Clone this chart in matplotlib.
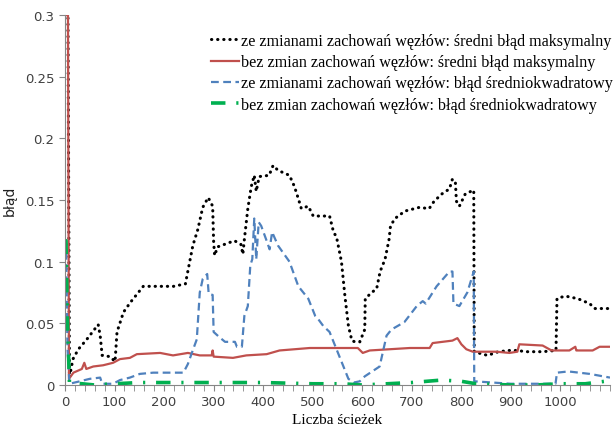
import numpy as np
import matplotlib
matplotlib.use("Agg")
import matplotlib.pyplot as plt
from matplotlib.ticker import MultipleLocator

# Data
x_black = [0, 6, 9, 16, 27, 44, 67, 71, 75, 91, 101, 105, 118, 132, 158, 193, 219, 243,
           258, 268, 278, 289, 298, 300, 302, 308, 315, 342, 355, 359, 362, 369, 376,
           382, 386, 392, 412, 420, 430, 453, 463, 471, 477, 491, 501, 534, 542, 548,
           558, 565, 572, 579, 585, 595, 605, 606, 619, 629, 636, 646, 654, 657, 666,
           686, 715, 735, 745, 761, 776, 782, 788, 790, 796, 808, 825, 826, 843, 853,
           875, 897, 913, 930, 964, 991, 993, 999, 1011, 1035, 1059, 1069, 1100]
y_black = [0.3, 0.3, 0.006, 0.021, 0.029, 0.037, 0.049, 0.040, 0.024, 0.023, 0.019, 0.043,
           0.059, 0.067, 0.080, 0.080, 0.080, 0.082, 0.113, 0.126, 0.144, 0.152, 0.145,
           0.116, 0.105, 0.112, 0.113, 0.117, 0.114, 0.106, 0.118, 0.143, 0.161, 0.170,
           0.157, 0.169, 0.170, 0.178, 0.174, 0.170, 0.161, 0.151, 0.143, 0.145, 0.137,
           0.137, 0.124, 0.120, 0.100, 0.072, 0.048, 0.036, 0.035, 0.035, 0.045, 0.070,
           0.075, 0.078, 0.092, 0.102, 0.118, 0.129, 0.135, 0.141, 0.144, 0.143, 0.149,
           0.155, 0.159, 0.167, 0.164, 0.149, 0.145, 0.155, 0.158, 0.027, 0.025, 0.024,
           0.027, 0.028, 0.028, 0.027, 0.027, 0.028, 0.070, 0.071, 0.072, 0.070, 0.066,
           0.062, 0.062]

x_red = [0, 6, 8, 17, 34, 39, 43, 57, 77, 97, 111, 131, 145, 192, 218, 248, 272, 296, 298,
         300, 339, 366, 407, 433, 494, 528, 591, 601, 615, 696, 736, 742, 782, 792, 800,
         810, 823, 871, 897, 913, 917, 964, 982, 1018, 1030, 1032, 1034, 1065, 1079, 1100]
y_red = [0.3, 0.3, 0.005, 0.010, 0.013, 0.018, 0.013, 0.015, 0.016, 0.018, 0.021, 0.022,
         0.025, 0.026, 0.024, 0.026, 0.024, 0.024, 0.028, 0.023, 0.022, 0.024, 0.025,
         0.028, 0.030, 0.030, 0.030, 0.026, 0.028, 0.030, 0.030, 0.034, 0.036, 0.038,
         0.033, 0.029, 0.027, 0.027, 0.026, 0.027, 0.033, 0.032, 0.028, 0.028, 0.031,
         0.028, 0.028, 0.028, 0.031, 0.031]

x_blue = [0, 2, 5, 9, 30, 50, 71, 75, 97, 111, 131, 151, 178, 239, 248, 256, 266, 272, 278,
          287, 290, 298, 300, 311, 323, 343, 347, 357, 362, 369, 374, 378, 382, 386, 391,
          396, 406, 413, 418, 430, 453, 471, 491, 505, 510, 521, 534, 558, 572, 583, 595,
          605, 635, 649, 659, 685, 710, 722, 728, 750, 776, 782, 784, 796, 812, 825, 826,
          900, 990, 993, 1016, 1059, 1100]
y_blue = [0.117, 0.117, 0.03, 0.001, 0.003, 0.005, 0.006, 0.001, 0.001, 0.004, 0.006,
          0.009, 0.010, 0.010, 0.017, 0.026, 0.037, 0.075, 0.086, 0.090, 0.074, 0.073,
          0.043, 0.039, 0.035, 0.035, 0.031, 0.031, 0.056, 0.064, 0.097, 0.102, 0.135,
          0.102, 0.132, 0.129, 0.118, 0.110, 0.124, 0.113, 0.100, 0.080, 0.070, 0.056,
          0.054, 0.048, 0.043, 0.019, 0.005, 0.002, 0.003, 0.007, 0.015, 0.040, 0.045,
          0.051, 0.064, 0.068, 0.066, 0.080, 0.092, 0.092, 0.066, 0.064, 0.075, 0.092,
          0.003, 0.001, 0.001, 0.010, 0.011, 0.009, 0.006]

x_green = [0, 2, 5, 9, 60, 100, 150, 250, 300, 400, 500, 560, 600, 700, 760, 800, 830, 900,
           950, 1000, 1050, 1090, 1100]
y_green = [0.117, 0.117, 0.05, 0.002, 0.000, 0.001, 0.002, 0.002, 0.002, 0.002, 0.001,
           0.001, 0.000, 0.002, 0.004, 0.003, 0.001, 0.000, 0.000, 0.001, 0.001, 0.003,
           0.003]

labels = [
    "ze zmianami zachowań węzłów: średni błąd maksymalny",
    "bez zmian zachowań węzłów: średni błąd maksymalny",
    "ze zmianami zachowań węzłów: błąd średniokwadratowy",
    "bez zmian zachowań węzłów: błąd średniokwadratowy",
]

fig = plt.figure(figsize=(6.13, 4.27), dpi=100)
ax = fig.add_axes([65 / 613, 41 / 427, 545 / 613, 370 / 427])

ax.plot(x_black, y_black, color="black", lw=2.2, linestyle=(0, (0.1, 1.9)),
        dash_capstyle="round", label=labels[0])
ax.plot(x_red, y_red, color="#C0504D", lw=1.6, label=labels[1])
ax.plot(x_blue, y_blue, color="#4F81BD", lw=1.6, linestyle=(0, (3.5, 2)), label=labels[2])
ax.plot(x_green, y_green, color="#00B050", lw=2.6, linestyle=(0, (4, 3, 0.6, 3)),
        label=labels[3])

ax.set_xlim(0, 1100)
ax.set_ylim(0, 0.3)
ax.set_xticks(range(0, 1001, 100))
ax.xaxis.set_minor_locator(MultipleLocator(20))
ax.set_yticks([0, 0.05, 0.1, 0.15, 0.2, 0.25, 0.3])
ax.set_yticklabels(["0", "0.05", "0.1", "0.15", "0.2", "0.25", "0.3"])

for s in ["top", "right"]:
    ax.spines[s].set_visible(False)
for s in ["left", "bottom"]:
    ax.spines[s].set_color("#868686")
ax.tick_params(axis="both", which="both", color="#868686", direction="out",
               length=4, labelsize=9.5, labelcolor="#404040")

ax.set_xlabel("Liczba ścieżek", family="Liberation Serif", fontsize=11, labelpad=3)
ax.set_ylabel("błąd", fontsize=10, color="#202020", labelpad=6)

# legend placed in figure coords, top right without frame
ax.legend(loc="upper right", bbox_to_anchor=(1 + 8 / 613, 1 - 26 / 427),
          bbox_transform=fig.transFigure, frameon=False,
          prop={"family": "Liberation Serif", "size": 11.6},
          handlelength=1.7, handletextpad=0.15, labelspacing=0.32, borderpad=0.0)

fig.savefig("out.png", dpi=100)
